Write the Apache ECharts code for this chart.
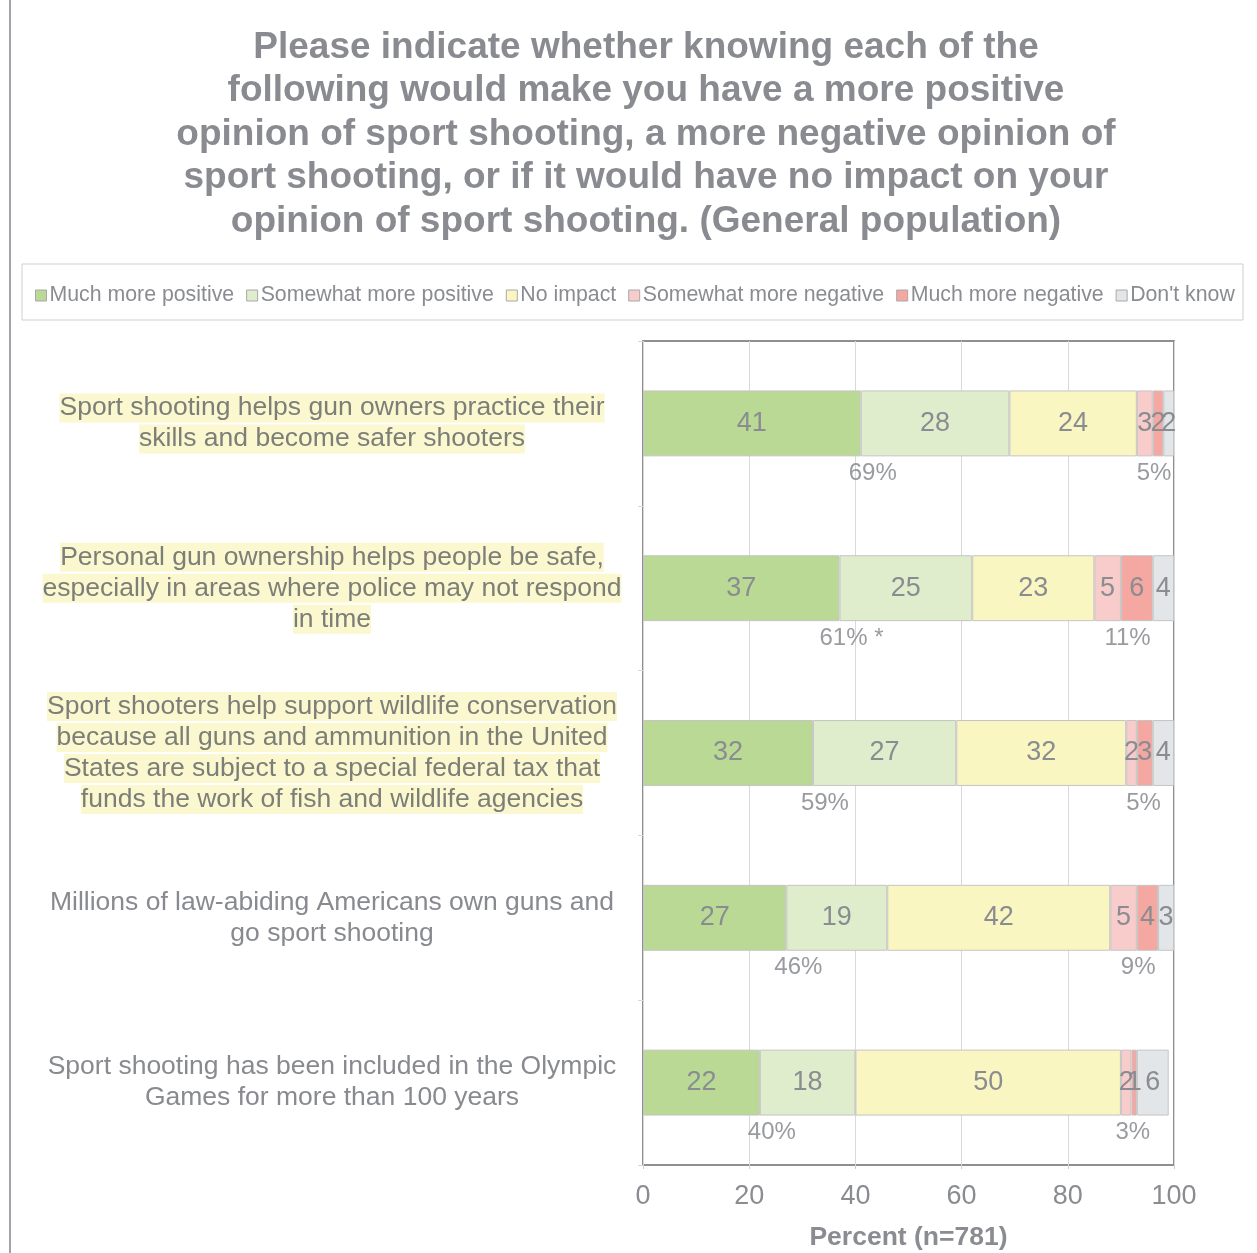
<!DOCTYPE html>
<html>
<head>
<meta charset="utf-8">
<script src="https://cdn.jsdelivr.net/npm/echarts@6/dist/echarts.min.js"></script>
<style>
html,body{margin:0;padding:0;background:#fff;}
#chart{width:1257px;height:1253px;}
</style>
</head>
<body>
<div id="chart"></div>
<script>
const categories = [
  "Sport shooting helps gun owners practice their\nskills and become safer shooters",
  "Personal gun ownership helps people be safe,\nespecially in areas where police may not respond\nin time",
  "Sport shooters help support wildlife conservation\nbecause all guns and ammunition in the United\nStates are subject to a special federal tax that\nfunds the work of fish and wildlife agencies",
  "Millions of law-abiding Americans own guns and\ngo sport shooting",
  "Sport shooting has been included in the Olympic\nGames for more than 100 years"
];
const highlighted = [true, true, true, false, false];
const seriesNames = ["Much more positive","Somewhat more positive","No impact","Somewhat more negative","Much more negative","Don't know"];
const muchPositive     = [41, 37, 32, 27, 22];
const somewhatPositive = [28, 25, 27, 19, 18];
const noImpact         = [24, 23, 32, 42, 50];
const somewhatNegative = [3, 5, 2, 5, 2];
const muchNegative     = [2, 6, 3, 4, 1];
const dontKnow         = [2, 4, 4, 3, 6];
const positiveTotals   = ["69%", "61% *", "59%", "46%", "40%"];
const negativeTotals   = ["5%", "11%", "5%", "9%", "3%"];
const xTicks = [0, 20, 40, 60, 80, 100];

const colors = ["#b9d995","#dfedcc","#faf6c1","#f9cccc","#f5a7a1","#e2e6e9"];
const seriesData = [muchPositive, somewhatPositive, noImpact, somewhatNegative, muchNegative, dontKnow];

const chart = echarts.init(document.getElementById('chart'));
const grey = '#8a8c91';
const FONT = 'Liberation Sans, Arial, sans-serif';

const barSeries = seriesNames.map((name, k) => ({
  name: name,
  type: 'bar',
  stack: 'total',
  barWidth: '40%',
  data: seriesData[k],
  itemStyle: { color: colors[k], borderColor: '#c4c4c4', borderWidth: 1 },
  label: { show: true, position: 'inside', color: grey, fontSize: 27, fontFamily: FONT },
  emphasis: { disabled: true },
  silent: true
}));

const posPoints = categories.map((c, i) => ({ value: [muchPositive[i], c], label: { formatter: positiveTotals[i] } }));
const negPoints = categories.map((c, i) => ({
  value: [muchPositive[i] + somewhatPositive[i] + noImpact[i] + (somewhatNegative[i] + muchNegative[i]) / 2, c],
  label: { formatter: negativeTotals[i] }
}));

const labelSeries = (name, data, dx) => ({
  name: name,
  type: 'scatter',
  data: data,
  symbolSize: 1,
  itemStyle: { color: 'rgba(0,0,0,0)' },
  label: { show: true, position: 'inside', offset: [dx, 50], color: '#808287', fontSize: 24, fontFamily: FONT },
  silent: true,
  z: 5
});

chart.setOption({
  animation: false,
  backgroundColor: '#ffffff',
  title: {
    text: 'Please indicate whether knowing each of the\nfollowing would make you have a more positive\nopinion of sport shooting, a more negative opinion of\nsport shooting, or if it would have no impact on your\nopinion of sport shooting. (General population)',
    left: 641,
    textAlign: 'center',
    top: 21,
    textStyle: { fontSize: 37, fontWeight: 'bold', color: '#898b90', lineHeight: 43.5, fontFamily: FONT }
  },
  legend: {
    data: seriesNames,
    top: 280,
    left: 30,
    itemWidth: 11,
    itemHeight: 11,
    itemGap: 12,
    icon: 'rect',
    itemStyle: { borderColor: '#a8a8a8', borderWidth: 1 },
    textStyle: { fontSize: 21.3, color: grey, fontFamily: FONT, padding: [0, 0, 0, -2] },
    selectedMode: false
  },
  graphic: [
    { type: 'rect', shape: { x: 22, y: 264, width: 1221, height: 56 }, style: { fill: 'none', stroke: '#cfcfcf', lineWidth: 1 }, silent: true },
    { type: 'line', shape: { x1: 10, y1: 0, x2: 10, y2: 1253 }, style: { stroke: '#a3a3ad', lineWidth: 2 }, silent: true }
  ],
  grid: {
    left: 643, right: 83, top: 341, bottom: 88,
    outerBoundsMode: 'none',
    containLabel: false,
    show: true, borderColor: '#8f8f8f', borderWidth: 2, backgroundColor: 'transparent'
  },
  xAxis: {
    type: 'value',
    min: 0, max: 100, interval: 20,
    name: 'Percent (n=781)',
    nameLocation: 'middle',
    nameGap: 59,
    nameTextStyle: { fontSize: 26.5, fontWeight: 'bold', color: grey, fontFamily: FONT },
    axisLine: { show: false },
    axisTick: { show: true, length: 4, lineStyle: { color: '#d0d0d0' } },
    axisLabel: { fontSize: 27, color: grey, margin: 18, fontFamily: FONT,
      formatter: v => xTicks.includes(v) ? String(v) : '' },
    splitLine: { show: true, lineStyle: { color: '#d9d9d9', width: 1 } }
  },
  yAxis: {
    type: 'category',
    data: categories,
    inverse: true,
    axisLine: { show: false },
    axisTick: { show: true, length: 5, lineStyle: { color: '#d8d8d8' } },
    axisLabel: {
      margin: 311,
      align: 'center',
      fontSize: 26.5,
      color: '#7c7e78',
      lineHeight: 31,
      fontFamily: FONT,
      formatter: (value, idx) => value.split('\n').map(l => (highlighted[idx] ? '{h|' : '{n|') + l + '}').join('\n'),
      rich: {
        h: { backgroundColor: '#fbf8d0', fontSize: 26.5, lineHeight: 31, color: '#7c7e78', padding: [1, 0, 1, 0], fontFamily: FONT },
        n: { fontSize: 26.5, lineHeight: 31, color: '#888a8f', fontFamily: FONT }
      }
    }
  },
  series: barSeries.concat([labelSeries('posTotals', posPoints, 12), labelSeries('negTotals', negPoints, 4)])
});
</script>
</body>
</html>
